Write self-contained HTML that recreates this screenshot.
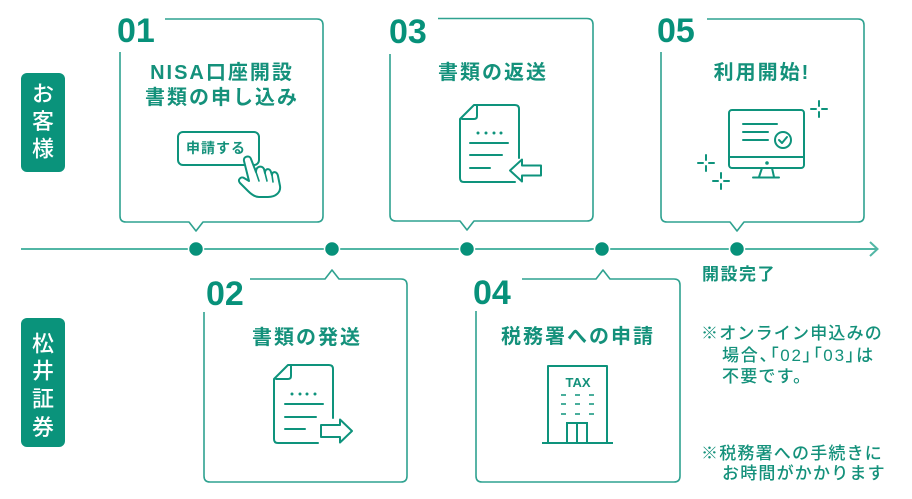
<!DOCTYPE html>
<html><head><meta charset="utf-8"><style>
html,body{margin:0;padding:0;background:#fff;}
svg{display:block;}
text{font-family:"Liberation Sans","Noto Sans CJK JP",sans-serif;}
.t{fill:#14917b;font-weight:700;font-size:20px;letter-spacing:2px;}
.n{fill:#07917a;font-weight:700;font-size:34px;}
.lb{fill:#fff;font-size:22px;font-weight:500;}
.nt{fill:#14917b;font-size:17px;font-weight:500;letter-spacing:1.2px;}
.bx{fill:none;stroke:#2fa290;stroke-width:1.6;stroke-linejoin:round;}
.ic{fill:none;stroke:#0e937c;stroke-width:2;stroke-linecap:round;stroke-linejoin:round;}
</style></head><body>
<svg width="912" height="499" viewBox="0 0 912 499" xmlns="http://www.w3.org/2000/svg">
<!-- side labels -->
<rect x="21" y="73" width="44" height="99" rx="6" fill="#0a937b"/>
<text class="lb" x="43" y="101.5" text-anchor="middle">お</text>
<text class="lb" x="43" y="129" text-anchor="middle">客</text>
<text class="lb" x="43" y="156.5" text-anchor="middle">様</text>
<rect x="21" y="318" width="44" height="129" rx="6" fill="#0a937b"/>
<text class="lb" x="43" y="351.5" text-anchor="middle">松</text>
<text class="lb" x="43" y="378.5" text-anchor="middle">井</text>
<text class="lb" x="43" y="406.5" text-anchor="middle">証</text>
<text class="lb" x="43" y="435" text-anchor="middle">券</text>

<!-- timeline -->
<line x1="21" y1="249" x2="877" y2="249" stroke="#52b6a5" stroke-width="2"/>
<polyline points="870,242 877.5,249 870,256" fill="none" stroke="#52b6a5" stroke-width="2"/>
<g fill="#07917a" stroke="#fff" stroke-width="1.5">
<circle cx="196" cy="249" r="7.5"/>
<circle cx="332" cy="249" r="7.5"/>
<circle cx="467" cy="249" r="7.5"/>
<circle cx="602" cy="249" r="7.5"/>
<circle cx="737" cy="249" r="7.5"/>
</g>

<!-- Box 01 -->
<path class="bx" d="M165,19 H317 Q323,19 323,25 V216 Q323,222 317,222 H203 L196,231 L189,222 H126 Q120,222 120,216 V52"/>
<text class="n" x="117" y="42">01</text>
<text class="t" x="222" y="79" text-anchor="middle">NISA口座開設</text>
<text class="t" x="222" y="104" text-anchor="middle">書類の申し込み</text>
<rect x="178" y="132" width="81" height="33" rx="5" fill="none" stroke="#0e937c" stroke-width="2"/>
<text x="216" y="153" text-anchor="middle" style="fill:#14917b;font-weight:700;font-size:14px;letter-spacing:1px;">申請する</text>
<path d="M249,181 L244,161 C243,156 250,155 251,159 L256,172 C256,166 262,165 264,169 L265,173 C265,168 270,168 271,172 L272,175 C272,171 277,171 278,176 L280,186 C281,192 276,197 268,197 L259,197 C255,197 251,194 248,191 L240,183 C237,180 241,176 244,178 Z" fill="#fff" stroke="#0e937c" stroke-width="2" stroke-linejoin="round"/>
<path d="M256,172 L259,181 M265,173 L267,181 M272,175 L273,182" fill="none" stroke="#0e937c" stroke-width="1.6" stroke-linecap="round"/>

<!-- Box 03 -->
<path class="bx" d="M438,18.5 H587 Q593,18.5 593,24.5 V215 Q593,221 587,221 H474 L467,230 L460,221 H396 Q390,221 390,215 V54"/>
<text class="n" x="389" y="43">03</text>
<text class="t" x="493" y="79" text-anchor="middle">書類の返送</text>
<g transform="translate(460,105)">
<path class="ic" d="M55,77 H4 Q0,77 0,73 V14 L14,0 H55 Q59,0 59,4 V53"/>
<path class="ic" d="M17,0 V11 Q17,14 14,14 H2"/>
<g fill="#0e937c"><circle cx="18" cy="28" r="1.5"/><circle cx="26" cy="28" r="1.5"/><circle cx="34" cy="28" r="1.5"/><circle cx="41" cy="28" r="1.5"/></g>
<path class="ic" d="M10,38 H48 M10,50 H42 M10,63 H30"/>
</g>
<path class="ic" d="M510,170.5 L522,159.5 V165.5 H541 V175.5 H522 V181.5 Z"/>

<!-- Box 05 -->
<path class="bx" d="M707,19 H858 Q864,19 864,25 V216 Q864,222 858,222 H744 L737,231 L730,222 H667 Q661,222 661,216 V52"/>
<text class="n" x="657" y="42">05</text>
<text class="t" x="762" y="79" text-anchor="middle">利用開始!</text>
<rect x="729" y="110" width="75" height="58" rx="3" class="ic"/>
<line x1="729" y1="157" x2="804" y2="157" class="ic"/>
<circle cx="767" cy="163" r="1.8" fill="#0e937c"/>
<path class="ic" d="M762,168 L759,177 M772,168 L774,177 M753,177.5 H779"/>
<path class="ic" d="M743,124 H777 M743,132 H768 M743,140 H768" stroke-width="1.8"/>
<circle cx="783" cy="140" r="8" class="ic" stroke-width="1.8"/>
<path class="ic" d="M779,140 L782,143 L787,137" stroke-width="1.8"/>
<g class="ic" stroke-width="1.6">
<path d="M819,101 V106 M819,112 V117 M811,109 H816 M822,109 H827"/>
<path d="M706,155 V160 M706,166 V171 M698,163 H703 M709,163 H714"/>
<path d="M721,173 V178 M721,184 V189 M713,181 H718 M724,181 H729"/>
</g>
<text x="739" y="280" text-anchor="middle" style="fill:#14917b;font-weight:700;font-size:17px;letter-spacing:1.5px;">開設完了</text>

<!-- Box 02 -->
<path class="bx" d="M250,279 H325 L332,270 L339,279 H401 Q407,279 407,285 V476 Q407,482 401,482 H210 Q204,482 204,476 V312"/>
<text class="n" x="206" y="305">02</text>
<text class="t" x="307" y="344" text-anchor="middle">書類の発送</text>
<g transform="translate(274,365)">
<path class="ic" d="M44,78 H4 Q0,78 0,74 V14 L14,0 H55 Q59,0 59,4 V53"/>
<path class="ic" d="M17,0 V11 Q17,14 14,14 H2"/>
<g fill="#0e937c"><circle cx="18" cy="29" r="1.5"/><circle cx="26" cy="29" r="1.5"/><circle cx="33" cy="29" r="1.5"/><circle cx="41" cy="29" r="1.5"/></g>
<path class="ic" d="M11,39 H49 M11,52 H42 M11,64 H31"/>
</g>
<path class="ic" d="M321,425 H340 V419.5 L352,431 L340,442.5 V437 H321 Z"/>

<!-- Box 04 -->
<path class="bx" d="M522,279 H596 L603,270 L610,279 H674 Q680,279 680,285 V476 Q680,482 674,482 H482 Q476,482 476,476 V311"/>
<text class="n" x="473" y="304">04</text>
<text class="t" x="578" y="343" text-anchor="middle">税務署への申請</text>
<path class="ic" d="M548,443 V366 H607 V443" stroke-linecap="butt"/>
<line x1="542" y1="443" x2="613" y2="443" stroke="#0e937c" stroke-width="2"/>
<text x="578" y="387" text-anchor="middle" style="fill:#14917b;font-weight:700;font-size:13px;">TAX</text>
<g stroke="#0e937c" stroke-width="1.6">
<path d="M561,395 H566 M575,395 H580 M589,395 H594 M561,404 H566 M575,404 H580 M589,404 H594 M561,414 H566 M575,414 H580 M589,414 H594"/>
</g>
<path d="M567,443 V423 H587 V443 M577,423 V443" fill="none" stroke="#0e937c" stroke-width="2"/>

<!-- notes -->
<text class="nt" x="701" y="339">※オンライン申込みの</text>
<text class="nt" x="722" y="361" style="font-feature-settings:'palt';letter-spacing:1.8px;">場合、「02」「03」は</text>
<text class="nt" x="722" y="382">不要です。</text>
<text class="nt" x="701" y="459">※税務署への手続きに</text>
<text class="nt" x="722" y="479">お時間がかかります</text>
</svg>
</body></html>
